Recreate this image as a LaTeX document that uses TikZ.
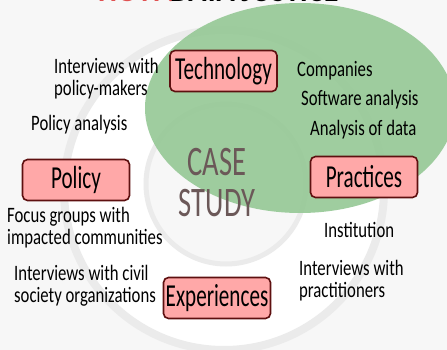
\documentclass[tikz,border=0pt]{standalone}
\usepackage{fontspec}
\setmainfont{Carlito}
\newfontfamily\notefont[FakeStretch=0.76]{Carlito}
\newfontfamily\topicfont[FakeStretch=0.66]{Carlito}
\newfontfamily\narrowfont[FakeStretch=0.68]{Carlito}

\definecolor{paper}{HTML}{F7F7F7}
\definecolor{ring}{HTML}{EBEBEB}
\definecolor{leaf}{HTML}{95C895}
\definecolor{boxfill}{HTML}{FFA8A8}
\definecolor{boxline}{HTML}{5E1010}
\definecolor{casecol}{HTML}{6B5858}
\definecolor{titlered}{HTML}{E05252}

\tikzset{
  topic/.style={draw=boxline, fill=boxfill, line width=1.6pt, rounded corners=5pt,
    minimum width=107pt, minimum height=41pt, inner sep=2pt,
    font=\topicfont\fontsize{32}{32}\selectfont},
  note/.style={anchor=west, align=left, inner sep=0pt,
    font=\notefont\fontsize{22}{22}\selectfont}
}

\begin{document}
\begin{tikzpicture}[x=1pt,y=-1pt]
  \clip (0,0) rectangle (447,350);
  \fill[paper] (0,0) rectangle (447,350);

  % rings and the tech bubble
  \draw[ring, line width=8pt, fill=white] (224,190) circle (160);
  \draw[ring, line width=5pt, fill=paper] (226,184) circle (80);
  \fill[leaf, fill opacity=0.9] (300,108) ellipse (155 and 105);

  % heading, mostly off the page
  \node[anchor=base west, inner sep=0pt, text=titlered, font=\fontsize{30}{30}\bfseries\selectfont] (howtitle) at (98,2) {HOW?};
  \node[anchor=base west, inner sep=0pt, font=\fontsize{30}{30}\bfseries\selectfont] (djtitle) at (170,2) {DATA JUSTICE};

  \node[align=center, text=casecol, font=\narrowfont\fontsize{42}{41}\selectfont] (case) at (217,183) {CASE\\STUDY};

  \node[topic] (tech) at (223.5,71) {Technology};
  \node[topic] (policy) at (76,180) {Policy};
  \node[topic] (practices) at (364,177) {Practices};
  \node[topic] (experiences) at (217,298) {Experiences};

  \node[note] (makers) at (54,79) {Interviews with\\policy-makers};
  \node[note] (analysis) at (31,125) {Policy analysis};
  \node[note] (focus) at (7,228) {Focus groups with\\impacted communities};
  \node[note] (civil) at (14,286) {Interviews with civil\\society organizations};
  \node[note] (companies) at (297,71) {Companies};
  \node[note] (software) at (301,100) {Software analysis};
  \node[note] (data) at (310,130) {Analysis of data};
  \node[note] (institution) at (324,230) {Institution};
  \node[note] (practitioners) at (299,281) {Interviews with\\practitioners};
\end{tikzpicture}
\end{document}
